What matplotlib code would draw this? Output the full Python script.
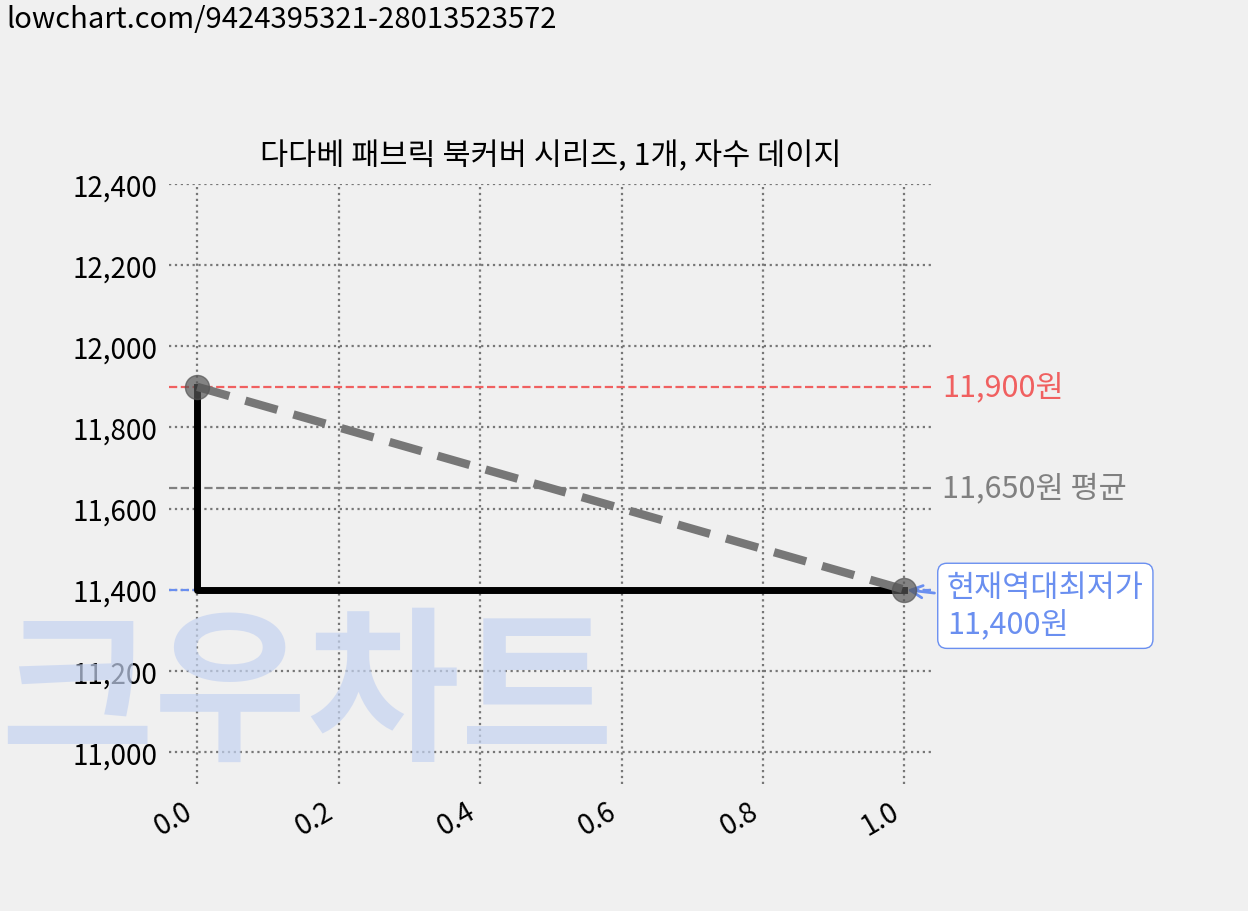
import matplotlib
matplotlib.use("Agg")
import matplotlib.pyplot as plt

plt.rcParams['font.family'] = ['Noto Sans CJK KR', 'DejaVu Sans']

x = [0.0, 1.0]
prices = [11900, 11400]
step_x = [0.0, 0.0, 1.0]
step_y = [11900, 11400, 11400]
max_price = 11900
avg_price = 11650
min_price = 11400
title = "다다베 패브릭 북커버 시리즈, 1개, 자수 데이지"
yticks = [11000, 11200, 11400, 11600, 11800, 12000, 12200, 12400]
xticks = [0.0, 0.2, 0.4, 0.6, 0.8, 1.0]

fig = plt.figure(figsize=(12.48, 9.12), dpi=100, facecolor='#f0f0f0')
ax = fig.add_axes([0.1354, 0.139, 0.612, 0.658], facecolor='#f0f0f0')
for s in ax.spines.values():
    s.set_visible(False)

fig.text(0.0, 0.235, "크우차트", fontsize=120, fontweight='heavy', color='#c5d3f0',
         alpha=0.7, zorder=0, va='center')

ax.grid(True, linestyle=':', color='#777777', linewidth=1.6)
ax.set_axisbelow(True)
ax.plot(step_x, step_y, color='black', linewidth=5, zorder=3)
ax.plot(x, prices, color='#777777', linewidth=6, dashes=(4, 2), zorder=4)
ax.scatter(x, prices, s=300, color='#555555', alpha=0.7, zorder=5)

ax.axhline(max_price, color='#f06060', linestyle='--', linewidth=1.6)
ax.axhline(avg_price, color='#808080', linestyle='--', linewidth=1.6)
ax.axhline(min_price, color='#6a8ff0', linestyle='--', linewidth=1.6)

ax.text(1.053, max_price, f"{max_price:,}원", color='#f06060', fontsize=22, va='center', fontweight='light')
ax.text(1.053, avg_price, f"{avg_price:,}원 평균", color='#808080', fontsize=22, va='center', fontweight='light')
ax.annotate(f"현재역대최저가\n{min_price:,}원", xy=(1.0, min_price), xytext=(1.06, min_price - 40),
            color='#6a8ff0', fontsize=22, va='center', fontweight='light',
            bbox=dict(boxstyle='round,pad=0.3', fc='white', ec='#6a8ff0'),
            arrowprops=dict(arrowstyle='->', color='#6a8ff0', lw=2))

ax.set_xlim(-0.04, 1.04)
ax.set_ylim(10920, 12400)
ax.set_yticks(yticks)
ax.set_yticklabels([f"{v:,}" for v in yticks], fontsize=20, fontweight='light')
ax.set_xticks(xticks)
ax.set_xticklabels([f"{v:.1f}" for v in xticks], fontsize=20, rotation=30, ha='right', fontweight='light')
ax.tick_params(length=0, pad=8)
ax.set_title(title, fontsize=22, pad=14)

fig.text(0.005, 0.995, "lowchart.com/9424395321-28013523572", fontsize=21, va='top')

fig.savefig("out.png", dpi=100, facecolor=fig.get_facecolor())
